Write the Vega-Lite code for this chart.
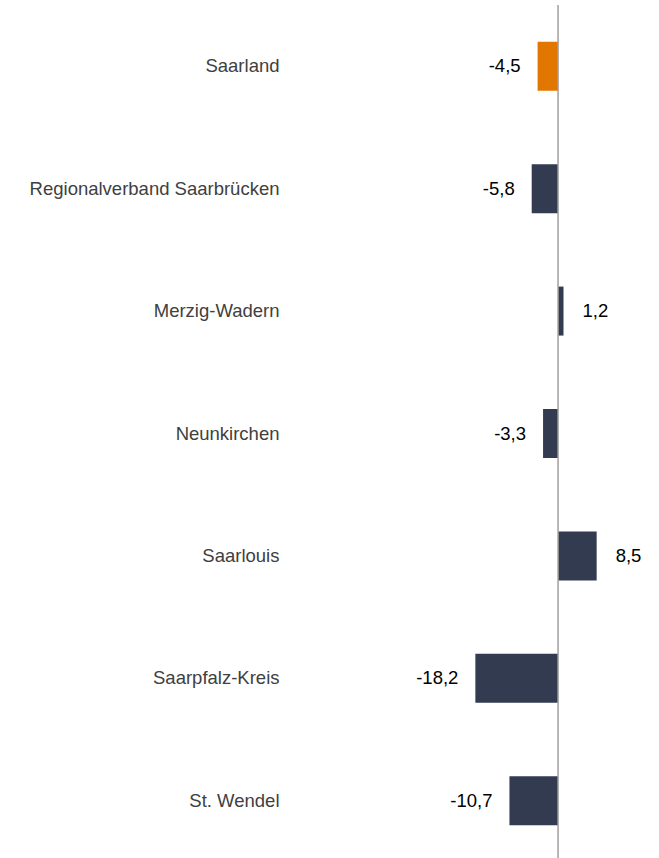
{
  "$schema": "https://vega.github.io/schema/vega-lite/v6.json",
  "width": 368,
  "height": 857,
  "autosize": "none",
  "padding": {"left": 290, "top": 5, "right": 0, "bottom": 0},
  "background": "white",
  "config": {
    "view": {"stroke": null},
    "font": "Liberation Sans",
    "locale": {"number": {"decimal": ",", "thousands": ".", "grouping": [3], "currency": ["", " €"], "minus": "-"}}
  },
  "data": {
    "values": [
      {"region": "Saarland", "value": -4.5},
      {"region": "Regionalverband Saarbrücken", "value": -5.8},
      {"region": "Merzig-Wadern", "value": 1.2},
      {"region": "Neunkirchen", "value": -3.3},
      {"region": "Saarlouis", "value": 8.5},
      {"region": "Saarpfalz-Kreis", "value": -18.2},
      {"region": "St. Wendel", "value": -10.7}
    ]
  },
  "layer": [
    {
      "mark": {"type": "bar"},
      "encoding": {
        "y": {
          "field": "region",
          "type": "nominal",
          "sort": null,
          "scale": {"paddingInner": 0.6, "paddingOuter": 0.3},
          "axis": {
            "title": null,
            "domain": false,
            "ticks": false,
            "labelPadding": 11,
            "labelFontSize": 18.5,
            "labelColor": "#404040",
            "labelFont": "Liberation Sans",
            "labelLimit": 400
          }
        },
        "x": {
          "field": "value",
          "type": "quantitative",
          "scale": {"domain": [-59, 22], "nice": false, "zero": false},
          "axis": null
        },
        "color": {
          "condition": {"test": "datum.region === 'Saarland'", "value": "#E17600"},
          "value": "#323B4F"
        }
      }
    },
    {
      "transform": [{"filter": "datum.value < 0"}],
      "mark": {"type": "text", "align": "right", "baseline": "middle", "dx": -17, "fontSize": 18.5, "color": "#000000", "font": "Liberation Sans"},
      "encoding": {
        "y": {"field": "region", "type": "nominal", "sort": null},
        "x": {"field": "value", "type": "quantitative"},
        "text": {"field": "value", "type": "quantitative", "format": ".1f"}
      }
    },
    {
      "transform": [{"filter": "datum.value >= 0"}],
      "mark": {"type": "text", "align": "left", "baseline": "middle", "dx": 19, "fontSize": 18.5, "color": "#000000", "font": "Liberation Sans"},
      "encoding": {
        "y": {"field": "region", "type": "nominal", "sort": null},
        "x": {"field": "value", "type": "quantitative"},
        "text": {"field": "value", "type": "quantitative", "format": ".1f"}
      }
    },
    {
      "data": {"values": [{"zero": 0}]},
      "mark": {"type": "rule", "color": "#A0A0A0", "strokeWidth": 1.5},
      "encoding": {
        "x": {"field": "zero", "type": "quantitative"}
      }
    }
  ]
}
